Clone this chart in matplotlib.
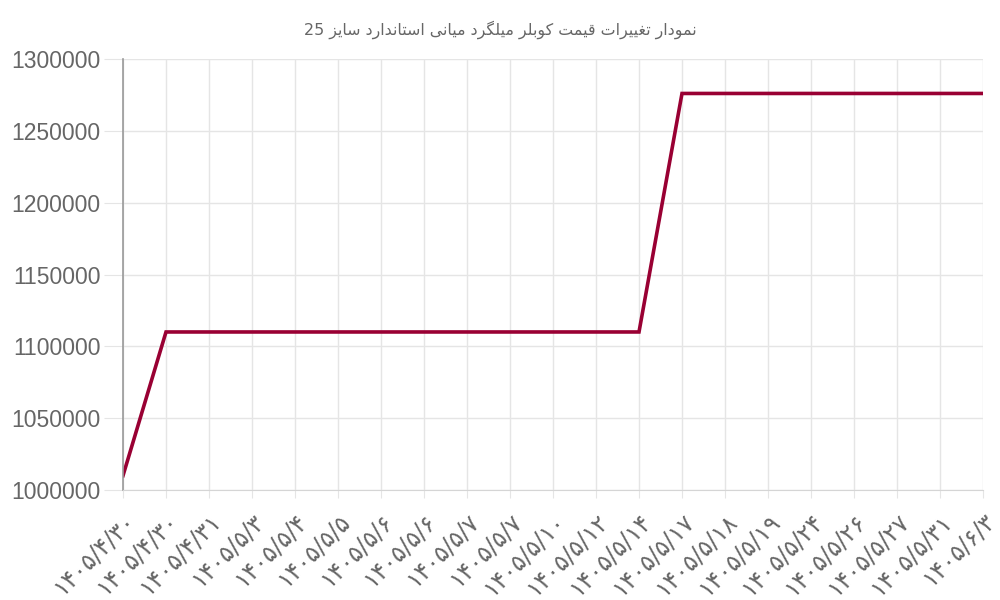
import matplotlib
matplotlib.use("Agg")
import matplotlib.pyplot as plt

# Data
dates = ["۱۴۰۵/۴/۳۰", "۱۴۰۵/۴/۳۰", "۱۴۰۵/۴/۳۱", "۱۴۰۵/۵/۳", "۱۴۰۵/۵/۴",
         "۱۴۰۵/۵/۵", "۱۴۰۵/۵/۶", "۱۴۰۵/۵/۶", "۱۴۰۵/۵/۷", "۱۴۰۵/۵/۷",
         "۱۴۰۵/۵/۱۰", "۱۴۰۵/۵/۱۲", "۱۴۰۵/۵/۱۴", "۱۴۰۵/۵/۱۷", "۱۴۰۵/۵/۱۸",
         "۱۴۰۵/۵/۱۹", "۱۴۰۵/۵/۲۴", "۱۴۰۵/۵/۲۶", "۱۴۰۵/۵/۲۷", "۱۴۰۵/۵/۳۱",
         "۱۴۰۵/۶/۳"]
prices = [1010000, 1110000, 1110000, 1110000, 1110000,
          1110000, 1110000, 1110000, 1110000, 1110000,
          1110000, 1110000, 1110000, 1276000, 1276000,
          1276000, 1276000, 1276000, 1276000, 1276000,
          1276000]
title = "نمودار تغییرات قیمت کوبلر میلگرد میانی استاندارد سایز 25"

# minimal Persian shaping (matplotlib does no shaping / bidi)
FORMS = {
    "ا": ("\uFE8D", "\uFE8E", None, None),
    "ب": ("\uFE8F", "\uFE90", "\uFE91", "\uFE92"),
    "پ": ("\uFB56", "\uFB57", "\uFB58", "\uFB59"),
    "ت": ("\uFE95", "\uFE96", "\uFE97", "\uFE98"),
    "د": ("\uFEA9", "\uFEAA", None, None),
    "ر": ("\uFEAD", "\uFEAE", None, None),
    "ز": ("\uFEAF", "\uFEB0", None, None),
    "س": ("\uFEB1", "\uFEB2", "\uFEB3", "\uFEB4"),
    "غ": ("\uFECD", "\uFECE", "\uFECF", "\uFED0"),
    "ق": ("\uFED5", "\uFED6", "\uFED7", "\uFED8"),
    "ک": ("\uFB8E", "\uFB8F", "\uFB90", "\uFB91"),
    "گ": ("\uFB92", "\uFB93", "\uFB94", "\uFB95"),
    "ل": ("\uFEDD", "\uFEDE", "\uFEDF", "\uFEE0"),
    "م": ("\uFEE1", "\uFEE2", "\uFEE3", "\uFEE4"),
    "ن": ("\uFEE5", "\uFEE6", "\uFEE7", "\uFEE8"),
    "و": ("\uFEED", "\uFEEE", None, None),
    "ی": ("\uFBFC", "\uFBFD", "\uFBFE", "\uFBFF"),
}


def shape_word(w):
    out = []
    for i, c in enumerate(w):
        f = FORMS.get(c)
        if f is None:
            out.append(c)
            continue
        prev = w[i - 1] if i > 0 else None
        nxt = w[i + 1] if i < len(w) - 1 else None
        joins_prev = prev in FORMS and FORMS[prev][2] is not None
        joins_next = nxt in FORMS and f[2] is not None
        if joins_prev and joins_next:
            out.append(f[3])
        elif joins_prev:
            out.append(f[1])
        elif joins_next:
            out.append(f[2])
        else:
            out.append(f[0])
    return "".join(reversed(out))


def rtl(s):
    return " ".join(shape_word(w) if any(c in FORMS for c in w) else w
                    for w in reversed(s.split(" ")))


fig = plt.figure(figsize=(10, 6), dpi=100)
ax = fig.add_axes([0.123, 0.1833, 0.86, 0.7184])

x = list(range(len(dates)))
ax.plot(x, prices, color="#990033", linewidth=2.6, solid_joinstyle="miter")

ax.set_xlim(0, len(dates) - 1)
ax.set_ylim(1000000, 1300000)
ax.set_yticks(range(1000000, 1300001, 50000))
ax.ticklabel_format(axis="y", style="plain", useOffset=False)
ax.set_xticks(x)
ax.set_xticklabels(dates, rotation=45, ha="right", rotation_mode="anchor",
                   fontsize=17, color="#666666", family="DejaVu Sans")
for lab in ax.get_yticklabels():
    lab.set_family("Liberation Sans")
ax.tick_params(axis="y", labelsize=16.5, labelcolor="#666666", length=14,
               color="#e5e5e5", pad=2)
ax.tick_params(axis="x", length=6, color="#e5e5e5", pad=7)

ax.grid(True, color="#e5e5e5", linewidth=1)
ax.set_axisbelow(True)
for s in ["top", "right"]:
    ax.spines[s].set_visible(False)
ax.spines["left"].set_color("#999999")
ax.spines["left"].set_linewidth(1.2)
ax.spines["bottom"].set_color("#d5d5d5")

fig.text(0.5, 1 - 30 / 600, rtl(title), ha="center", va="center",
         fontsize=11.4, color="#666666", family="DejaVu Sans")

fig.savefig("out.png", dpi=100)
